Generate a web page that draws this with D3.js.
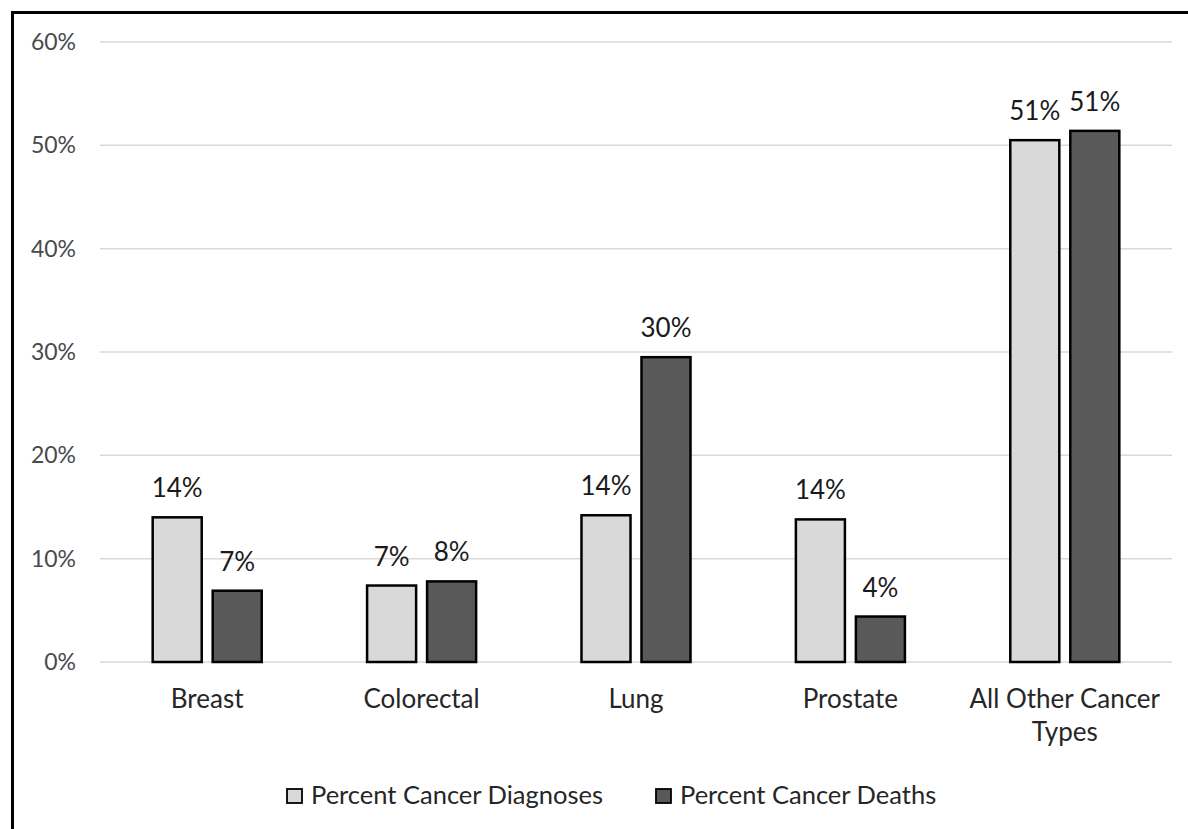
<!DOCTYPE html>
<html>
<head>
<meta charset="utf-8">
<script src="https://cdn.jsdelivr.net/npm/d3@7"></script>
<style>
  html, body { margin: 0; padding: 0; background: #fff; }
  svg text { font-family: Lato, "Open Sans", sans-serif; }
</style>
</head>
<body>
<svg id="chart" width="1188" height="829"></svg>
<script>
// Share of cancer diagnoses vs. deaths by type
const categories = ["Breast", "Colorectal", "Lung", "Prostate", "All Other Cancer Types"];
const seriesNames = ["Percent Cancer Diagnoses", "Percent Cancer Deaths"];
const diagnoses = [14.0, 7.4, 14.2, 13.8, 50.5];
const deaths = [6.9, 7.8, 29.5, 4.4, 51.4];
const yTicks = [0, 10, 20, 30, 40, 50, 60];
const fills = ["#d9d9d9", "#595959"];

const svg = d3.select("#chart");

// frame (left and top edges)
svg.append("path")
  .attr("d", "M12.5,829 V12.5 H1188")
  .attr("fill", "none").attr("stroke", "#000").attr("stroke-width", 3);

const margin = { left: 100, right: 16, top: 42, bottom: 167 };
const W = 1188, H = 829;
const x = d3.scaleBand().domain(categories).range([margin.left, W - margin.right]);
const y = d3.scaleLinear().domain([0, 60]).range([H - margin.bottom, margin.top]);
const inner = d3.scaleBand().domain(seriesNames).range([0, x.bandwidth()])
  .paddingInner(0.183).paddingOuter(0.878);

// gridlines
svg.append("g").selectAll("line").data(yTicks).join("line")
  .attr("x1", margin.left).attr("x2", W - margin.right)
  .attr("y1", d => y(d)).attr("y2", d => y(d))
  .attr("stroke", "#d9d9d9").attr("stroke-width", 1.5);

// y axis labels
const yAxis = d3.axisLeft(y).tickValues(yTicks).tickFormat(d => d + "%").tickSize(0).tickPadding(24);
const ya = svg.append("g").attr("transform", `translate(${margin.left},0)`).call(yAxis);
ya.select(".domain").remove();
ya.selectAll("text").attr("font-size", 23).attr("fill", "#4a4a4a").style("font-family", "Lato, sans-serif");

// bars
const rows = categories.map((c, i) => ({ c, vals: [diagnoses[i], deaths[i]] }));
const groups = svg.append("g").selectAll("g").data(rows).join("g")
  .attr("transform", d => `translate(${x(d.c)},0)`);

groups.selectAll("rect").data(d => d.vals.map((v, j) => ({ v, s: seriesNames[j], j }))).join("rect")
  .attr("x", d => inner(d.s))
  .attr("width", inner.bandwidth())
  .attr("y", d => y(d.v))
  .attr("height", d => y(0) - y(d.v))
  .attr("fill", d => fills[d.j])
  .attr("stroke", "#000").attr("stroke-width", 2.5);

// value labels
groups.selectAll("text.val").data(d => d.vals.map((v, j) => ({ v, s: seriesNames[j] }))).join("text")
  .attr("class", "val")
  .attr("x", d => inner(d.s) + inner.bandwidth() / 2)
  .attr("y", d => y(d.v) - 20)
  .attr("text-anchor", "middle")
  .attr("font-size", 26).attr("fill", "#1a1a1a")
  .text(d => Math.round(d.v) + "%");

// category labels
const catLines = { "All Other Cancer Types": ["All Other Cancer", "Types"] };
svg.append("g").selectAll("text").data(categories).join("text")
  .attr("x", d => x(d) + x.bandwidth() / 2)
  .attr("y", 708)
  .attr("text-anchor", "middle")
  .attr("font-size", 26).attr("fill", "#262626")
  .each(function (d) {
    const lines = catLines[d] || [d];
    d3.select(this).selectAll("tspan").data(lines).join("tspan")
      .attr("x", x(d) + x.bandwidth() / 2)
      .attr("dy", (l, i) => i === 0 ? 0 : 33)
      .text(l => l);
  });

// legend
const legendX = [287, 656];
const lg = svg.append("g").selectAll("g").data(seriesNames).join("g")
  .attr("transform", (d, i) => `translate(${legendX[i]},789)`);
lg.append("rect").attr("width", 15).attr("height", 14)
  .attr("fill", (d, i) => fills[i]).attr("stroke", "#000").attr("stroke-width", 1.8);
lg.append("text").attr("x", 24).attr("y", 15)
  .attr("font-size", 25.5).attr("fill", "#262626")
  .text(d => d);
</script>
</body>
</html>
